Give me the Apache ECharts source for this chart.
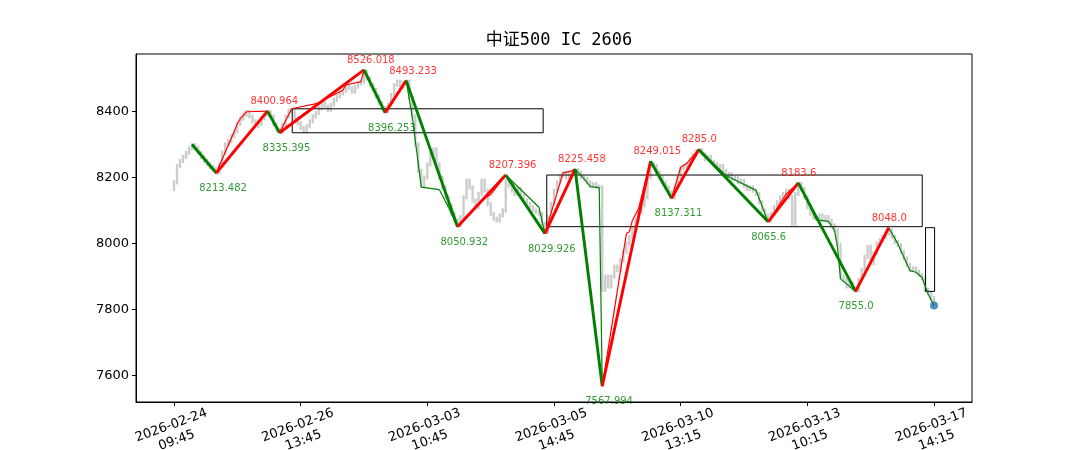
<!DOCTYPE html>
<html><head><meta charset="utf-8">
<script src="https://cdn.jsdelivr.net/npm/echarts@6/dist/echarts.min.js"></script>
<style>html,body{margin:0;padding:0;background:#fff}#c{width:1080px;height:450px}</style>
</head><body><div id="c"></div>
<script>
// ---- data ----
const chartTitle = '中证500 IC 2606';
const tickIndex = [0, 42, 84, 126, 168, 210, 252];
const tickLabels = ['2026-02-24\n09:45', '2026-02-26\n13:45', '2026-03-03\n10:45', '2026-03-05\n14:45', '2026-03-10\n13:15', '2026-03-13\n10:15', '2026-03-17\n14:15'];
const yTicks = [7600, 7800, 8000, 8200, 8400];
const firstOpen = 8165;
const closes = [
  8185,8235,8250,8262,8275,8288,8298,8290,8275,8262,
  8250,8240,8232,8225,8215,8240,8275,8300,8310,8325,
  8340,8363,8378,8390,8398,8385,8370,8355,8362,8380,
  8390,8398,8385,8360,8345,8338,8360,8385,8400,8405,
  8380,8365,8350,8340,8355,8370,8385,8395,8410,8425,
  8415,8405,8420,8435,8445,8455,8462,8478,8470,8460,
  8475,8485,8490,8520,8500,8480,8465,8445,8425,8410,
  8400,8420,8450,8480,8490,8475,8485,8490,8440,8385,
  8300,8220,8175,8200,8240,8270,8285,8240,8200,8170,
  8140,8115,8090,8070,8055,8080,8140,8190,8170,8130,
  8110,8150,8190,8160,8120,8090,8075,8070,8085,8100,
  8190,8175,8160,8150,8165,8145,8130,8120,8110,8100,
  8095,8090,8060,8035,8080,8120,8160,8185,8205,8212,
  8200,8210,8218,8222,8215,8200,8195,8185,8175,8180,
  8172,8170,7860,7900,7870,7900,7930,7920,7950,7975,
  8000,8020,8045,8070,8095,8115,8140,8200,8240,8235,
  8215,8200,8185,8170,8155,8140,8170,8200,8228,8235,
  8242,8255,8268,8278,8282,8270,8255,8262,8248,8240,
  8230,8235,8220,8205,8210,8195,8200,8185,8190,8175,
  8165,8170,8160,8150,8125,8100,8085,8070,8090,8110,
  8125,8140,8150,8160,8140,8060,8150,8180,8165,8140,
  8110,8090,8078,8075,8085,8070,8080,8068,8055,8040,
  7995,7900,7890,7870,7880,7865,7858,7890,7920,7960,
  7990,7940,7970,8000,8010,8020,8030,8040,8020,8005,
  7995,7975,7955,7935,7920,7925,7915,7905,7895,7860,
  7850,7835,7812
];
const thickIdx = [6, 14, 31, 35, 63, 70, 77, 94, 110, 123, 133, 142, 158, 165, 174, 197, 207, 226, 237];
const thickVal = [8300, 8213.482, 8400.964, 8335.395, 8526.018, 8396.253, 8493.233, 8050.932, 8207.396, 8029.926, 8225.458, 7567.994, 8249.015, 8137.311, 8285.0, 8065.6, 8183.6, 7855.0, 8048.0];
const thickText = ['', '8213.482', '8400.964', '8335.395', '8526.018', '8396.253', '8493.233', '8050.932', '8207.396', '8029.926', '8225.458', '7567.994', '8249.015', '8137.311', '8285.0', '8065.6', '8183.6', '7855.0', '8048.0'];
const thinIdx = [6, 14, 20, 21, 22, 24, 31, 35, 39, 48, 49, 56, 57, 62, 63, 70, 77, 79, 82, 88, 91, 94, 103, 105, 110, 121, 123, 129, 132, 133, 136, 138, 141, 142, 150, 151, 152, 154, 158, 165, 168, 170, 174, 183, 193, 197, 203, 207, 213, 217, 219, 220, 221, 226, 237, 240, 244, 246, 248, 250, 252];
const thinVal = [8300, 8213.482, 8340, 8363, 8378, 8399, 8400.964, 8335.395, 8408, 8425, 8432, 8464, 8480, 8490, 8526.018, 8396.253, 8493.233, 8383, 8171, 8163, 8110, 8050.932, 8138, 8148, 8207.396, 8110, 8029.926, 8214, 8220, 8225.458, 8196, 8172, 8169, 7567.994, 8030, 8036, 8070, 8105, 8249.015, 8137.311, 8231, 8242, 8285, 8206, 8161, 8065.6, 8150, 8183.6, 8072, 8067, 8040, 7990, 7893, 7855, 8048, 7999, 7918, 7913, 7898, 7848, 7812];
// pivot boxes: [startIdx, endIdx, low, high]
const boxStart = [39.2, 123.6, 249.2];
const boxEnd = [122.4, 248.1, 252.2];
const boxLow = [8335.395, 8050.932, 7855.0];
const boxHigh = [8408, 8207.396, 8048.0];
const lastPoint = [252, 7812];

// ---- build ----
const RED = '#ff0000', GREEN = '#008000';
const barData = closes.map((c, i) => [i, i === 0 ? firstOpen : closes[i - 1], c]);
function segs(idx, val, width) {
  const out = [];
  for (let i = 1; i < idx.length; i++) {
    out.push({ coords: [[idx[i - 1], val[i - 1]], [idx[i], val[i]]],
      lineStyle: { color: val[i] >= val[i - 1] ? RED : GREEN, width: width, opacity: 1 } });
  }
  return out;
}
const labelData = [];
for (let i = 1; i < thickIdx.length; i++) {
  const top = thickVal[i] > thickVal[i - 1];
  labelData.push({ value: [thickIdx[i], thickVal[i]],
    label: { show: true, formatter: thickText[i], color: top ? RED : GREEN,
      position: 'inside', align: 'left', verticalAlign: 'middle',
      offset: [-17, top ? -9.5 : 15.5] } });
}
const boxData = boxStart.map((s, i) => [s, boxEnd[i], boxLow[i], boxHigh[i]]);

const chart = echarts.init(document.getElementById('c'), null, { renderer: 'canvas' });
chart.setOption({
  animation: false,
  backgroundColor: '#fff',
  title: { text: chartTitle, left: 554, top: 27, textAlign: 'center',
    textStyle: { fontFamily: "'DejaVu Sans Mono','Noto Sans CJK SC'", fontSize: 17, fontWeight: 'normal', color: '#000' } },
  grid: { left: 136, right: 108, top: 54, bottom: 48, show: true, borderColor: '#000', borderWidth: 1,
    backgroundColor: 'transparent', containLabel: false, outerBoundsMode: 'none' },
  xAxis: { type: 'value', min: -12.6, max: 264.6,
    axisLine: { show: true, onZero: false, lineStyle: { color: '#000', width: 1 } },
    axisTick: { show: true, length: 4, customValues: tickIndex, lineStyle: { color: '#000' } },
    splitLine: { show: false },
    axisLabel: { customValues: tickIndex, rotate: 20, align: 'center', verticalAlign: 'middle', margin: 31,
      fontFamily: 'DejaVu Sans', fontSize: 13, color: '#000', lineHeight: 16,
      formatter: v => { const k = tickIndex.indexOf(Math.round(v)); return k >= 0 ? tickLabels[k] : ''; } } },
  yAxis: { type: 'value', min: 7520.1, max: 8573.9,
    axisLine: { show: true, onZero: false, lineStyle: { color: '#000', width: 1 } },
    axisTick: { show: true, length: 4, customValues: yTicks, lineStyle: { color: '#000' } },
    splitLine: { show: false },
    axisLabel: { customValues: yTicks, margin: 7, fontFamily: 'DejaVu Sans', fontSize: 13, color: '#000',
      formatter: v => String(Math.round(v)) } },
  series: [
    { type: 'custom', z: 1, silent: true, data: barData,
      renderItem: (params, api) => {
        const x = api.value(0), o = api.value(1), c = api.value(2);
        const p1 = api.coord([x, Math.max(o, c)]), p2 = api.coord([x, Math.min(o, c)]);
        return { type: 'rect', shape: { x: p1[0] - 1.2, y: p1[1] - 2, width: 2.4, height: Math.max(p2[1] - p1[1], 1) + 4 },
          style: { fill: '#cccccc' } };
      } },
    { type: 'custom', z: 2, silent: true, data: boxData,
      renderItem: (params, api) => {
        const a = api.coord([api.value(0), api.value(3)]), b = api.coord([api.value(1), api.value(2)]);
        return { type: 'rect', shape: { x: a[0], y: a[1], width: b[0] - a[0], height: b[1] - a[1] },
          style: { fill: 'none', stroke: '#000', lineWidth: 1 } };
      } },
    { type: 'lines', coordinateSystem: 'cartesian2d', z: 3, silent: true, polyline: false,
      data: segs(thinIdx, thinVal, 1.2) },
    { type: 'lines', coordinateSystem: 'cartesian2d', z: 4, silent: true, polyline: false,
      data: segs(thickIdx, thickVal, 2.9) },
    { type: 'scatter', z: 5, silent: true, symbolSize: 0, data: labelData,
      label: { fontFamily: 'DejaVu Sans', fontSize: 10 } },
    { type: 'scatter', z: 6, silent: true, symbolSize: 8, data: [lastPoint],
      itemStyle: { color: '#1f77b4' } }
  ]
});
</script>
</body></html>
